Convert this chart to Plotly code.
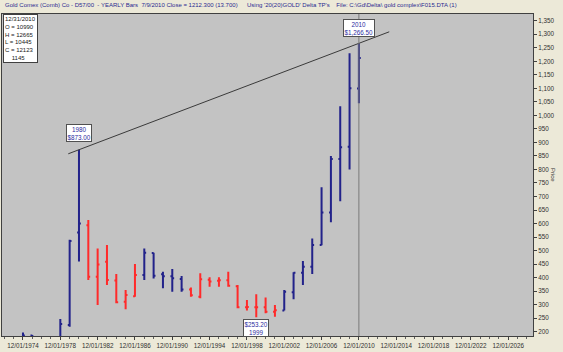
import plotly.graph_objects as go

# ---- data (yearly bars) ----
years = list(range(1974, 2011))
opens = [112, 186, 140, 134, 165, 225, 567, 594, 403, 459, 389, 311, 331, 410, 491, 412, 405, 395,
         356, 329, 392, 388, 390, 368, 290, 290, 290, 274, 278, 346, 418, 440, 521, 641, 839, 884, 1099]
highs = [197, 188, 141, 168, 247, 540, 873, 613, 508, 521, 413, 354, 450, 508, 492, 422, 432, 406,
         363, 416, 401, 401, 422, 373, 317, 338, 326, 299, 354, 420, 461, 545, 734, 850, 1034, 1230, 1266.5]
lows = [116, 128, 103, 129, 160, 218, 460, 391, 299, 373, 305, 283, 329, 391, 397, 361, 348, 348,
        329, 324, 366, 366, 366, 287, 278, 253.2, 268, 255, 278, 320, 373, 413, 520, 605, 682, 800, 1044.5]
closes = [186, 140, 134, 165, 228, 535, 600, 403, 448, 391, 309, 336, 410, 492, 407, 405, 398, 356,
          335, 394, 386, 390, 370, 290, 291, 290, 274, 279, 348, 418, 440, 521, 641, 839, 882, 1100, 1212.3]
bar_color = ["b", "b", "b", "b", "b", "b", "b", "r", "r", "r", "r", "r", "r", "b", "b", "b", "b", "b",
             "r", "r", "r", "r", "r", "r", "r", "r", "r", "r", "b", "b", "b", "b", "b", "b", "b", "b", "b"]

tick_years = list(range(1974, 2027, 4))
tick_labels = ["12/01/%d" % y for y in tick_years]
price_ticks = list(range(200, 1351, 50))

title_left = "Gold Comex (Comb) Co - D57/00  - YEARLY Bars  7/9/2010 Close = 1212.300 (13.700)"
title_right = "Using '20(20)GOLD' Delta TP's    File: C:\\Gd\\Delta\\ gold complex\\F015.DTA (1)"
info_lines = ["12/31/2010", "O = 10990", "H = 12665", "L = 10445", "C = 12123", "\u00a0\u00a0\u00a0\u00a01145"]

peak1_year, peak1_price = 1980, 873.00
peak2_year, peak2_price = 2010, 1266.50
low_year, low_price = 1999, 253.20

BLUE = "#22228a"
RED = "#ff2a2a"
FONT = "Liberation Sans"

fig = go.Figure()
for code, col in (("b", BLUE), ("r", RED)):
    idx = [i for i, c in enumerate(bar_color) if c == code]
    fig.add_trace(go.Ohlc(
        x=[years[i] for i in idx],
        open=[opens[i] for i in idx],
        high=[highs[i] for i in idx],
        low=[lows[i] for i in idx],
        close=[closes[i] for i in idx],
        increasing=dict(line=dict(color=col, width=2)),
        decreasing=dict(line=dict(color=col, width=2)),
        tickwidth=0.2,
        showlegend=False,
        hoverinfo="skip",
    ))

# trend line through the two peaks, extended a bit on both sides
slope = (peak2_price - peak1_price) / (peak2_year - peak1_year)
x0 = peak1_year - 1.15
x1 = peak2_year + 3.25
fig.add_shape(type="line", xref="x", yref="y",
              x0=x0, y0=peak1_price + slope * (x0 - peak1_year),
              x1=x1, y1=peak1_price + slope * (x1 - peak1_year),
              line=dict(color="#3a3a3a", width=1))
# vertical line at the last bar
fig.add_shape(type="line", xref="x", yref="paper", x0=peak2_year, x1=peak2_year, y0=0, y1=1,
              line=dict(color="#7a7a7a", width=1))

box_font = dict(family=FONT, size=6.3, color="#2c2ca0")
fig.add_annotation(x=peak1_year, y=peak1_price, xref="x", yref="y",
                   text="%d<br>$%.2f" % (peak1_year, peak1_price), showarrow=False,
                   yshift=17, font=box_font, bgcolor="white", bordercolor="#505050",
                   borderwidth=1, borderpad=0.5, align="center")
fig.add_annotation(x=peak2_year, y=peak2_price, xref="x", yref="y",
                   text="%d<br>$%s" % (peak2_year, "{:,.2f}".format(peak2_price)), showarrow=False,
                   xshift=0, yshift=15, font=box_font, bgcolor="white", bordercolor="#505050",
                   borderwidth=1, borderpad=0.5, align="center")
fig.add_annotation(x=low_year, y=low_price, xref="x", yref="y",
                   text="$%.2f<br>%d" % (low_price, low_year), showarrow=False,
                   yshift=-11, font=box_font, bgcolor="white", bordercolor="#505050",
                   borderwidth=1, borderpad=0.5, align="center")

# info box
fig.add_annotation(x=0, y=1, xref="paper", yref="paper", xanchor="left", yanchor="top",
                   text="<br>".join(info_lines), showarrow=False, align="left",
                   font=dict(family=FONT, size=6.0, color="#202020"),
                   bgcolor="white", bordercolor="#404040", borderwidth=1, borderpad=1, xshift=1)

# header texts
fig.add_annotation(x=0.002, y=1.028, xref="paper", yref="paper", xanchor="left", yanchor="middle",
                   text=title_left, showarrow=False, font=dict(family=FONT, size=6.0, color="#2a2a90"))
fig.add_annotation(x=(245 - 2) / 531, y=1.028, xref="paper", yref="paper", xanchor="left", yanchor="middle",
                   text=title_right, showarrow=False, font=dict(family=FONT, size=6.0, color="#2a2a90"))
# axis title
fig.add_annotation(x=(558 - 2) / 531, y=0.5, xref="paper", yref="paper", textangle=90,
                   text="Price", showarrow=False, font=dict(family=FONT, size=6.0, color="#303030"))

fig.update_layout(
    width=563, height=352,
    margin=dict(l=2, r=30, t=14, b=16),
    paper_bgcolor="#ece9d8",
    plot_bgcolor="#c3c3c3",
    showlegend=False,
    font=dict(family=FONT, size=6.3, color="#303030"),
    xaxis=dict(range=[1971.75, 2028.66], tickvals=tick_years, ticktext=tick_labels,
               showgrid=False, zeroline=False, rangeslider=dict(visible=False),
               ticks="outside", ticklen=3, tickcolor="#404040",
               minor=dict(dtick=1, tick0=1974, ticks="outside", ticklen=2, tickcolor="#606060"),
               showline=True, mirror=True, linecolor="#404040", linewidth=1,
               tickfont=dict(family=FONT, size=6.3, color="#303030")),
    yaxis=dict(range=[184, 1375], side="right", tickvals=price_ticks, tickformat=",",
               showgrid=False, zeroline=False,
               ticks="outside", ticklen=3, tickcolor="#404040",
               showline=True, mirror=True, linecolor="#404040", linewidth=1,
               tickfont=dict(family=FONT, size=6.3, color="#303030")),
)

fig.write_html("out.html")
